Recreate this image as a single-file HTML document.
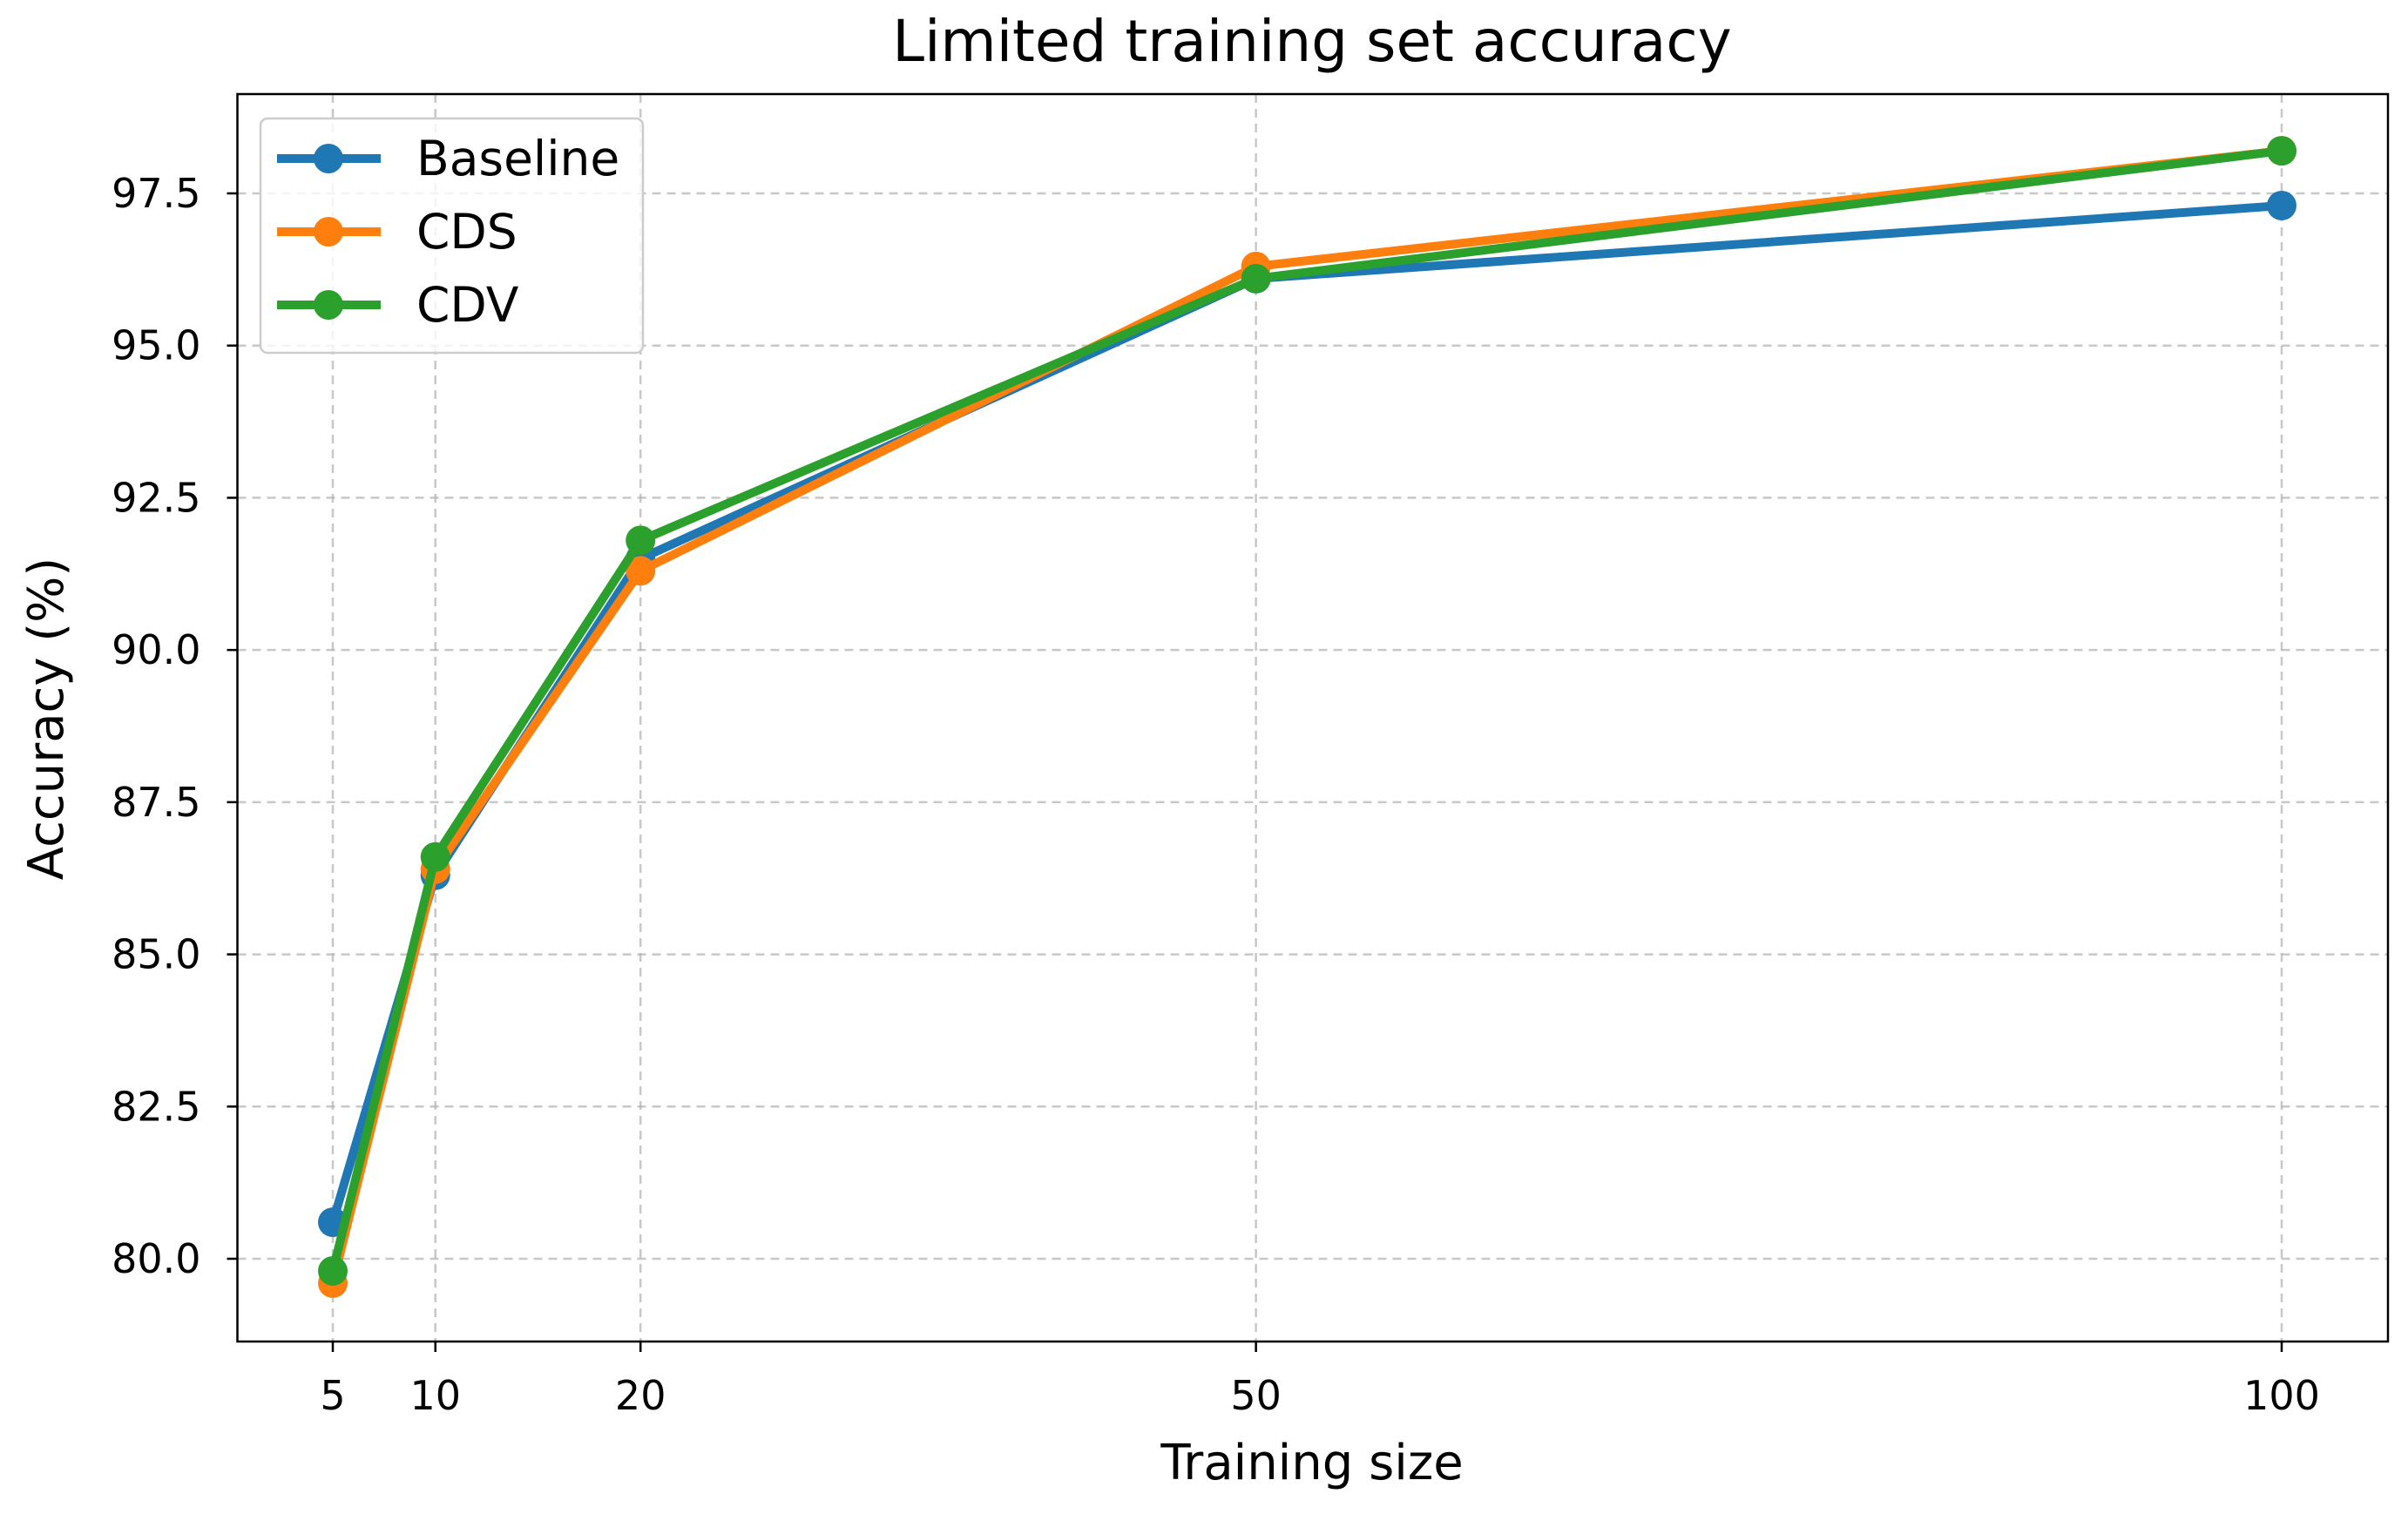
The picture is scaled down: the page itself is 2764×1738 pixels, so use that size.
<!DOCTYPE html>
<html><head><meta charset="utf-8"><style>
html,body{margin:0;padding:0;background:#fff;}
svg text{font-family:"DejaVu Sans","Liberation Sans",sans-serif;fill:#000;}
</style></head><body>
<svg id="chart" width="2764" height="1733" xmlns="http://www.w3.org/2000/svg">
<rect width="2764" height="1733" fill="#fff"/>
<g id="grid"></g>
<g id="series"></g>
<rect x="272.5" y="108" width="2468.5" height="1432" fill="none" stroke="#000" stroke-width="2.5"/>
<g id="ticks"></g>
<text x="1506" y="70" font-size="66" text-anchor="middle">Limited training set accuracy</text>
<text x="1506" y="1698" font-size="56" text-anchor="middle">Training size</text>
<text x="0" y="0" font-size="56" text-anchor="middle" transform="translate(72,825) rotate(-90)">Accuracy (%)</text>
<g>
<rect x="299" y="136" width="439" height="269" rx="8" fill="#fff" fill-opacity="0.8" stroke="#ccc" stroke-width="2.5"/>
<g id="legend-items"></g>
</g>
</svg>
<script>
const categories=[5,10,20,50,100];
const baseline=[80.6,86.3,91.5,96.1,97.3];
const cds=[79.6,86.4,91.3,96.3,98.2];
const cdv=[79.8,86.6,91.8,96.1,98.2];
const seriesNames=["Baseline","CDS","CDV"];
const yTicks=[80.0,82.5,85.0,87.5,90.0,92.5,95.0,97.5];
const xTicks=[5,10,20,50,100];

const NS="http://www.w3.org/2000/svg";
const L=272.5,R=2741,T=108,B=1540;
function xs(v){return 382+(v-5)*(2619-382)/95;}
function ys(v){return 1445-(v-80)*(1445-222)/17.5;}
function mk(tag,attrs,parent){const e=document.createElementNS(NS,tag);for(const k in attrs)e.setAttribute(k,attrs[k]);parent.appendChild(e);return e;}
const grid=document.getElementById('grid'),ticks=document.getElementById('ticks'),ser=document.getElementById('series');
yTicks.forEach(v=>{
 const y=ys(v);
 const g=mk('line',{x1:L,x2:R,y1:y,y2:y,stroke:'#b0b0b0','stroke-width':2.5,'stroke-dasharray':'10,7','stroke-opacity':0.7},grid);
 
 
 const t=mk('line',{x1:L-12,x2:L,y1:y,y2:y,stroke:'#000','stroke-width':2.5},ticks);
 
 
 const tx=mk('text',{x:L-42,y:y+16,'font-size':46,'text-anchor':'end'},ticks);
 tx.textContent=v.toFixed(1);
 
 
});
xTicks.forEach(v=>{
 const x=xs(v);
 const g=mk('line',{x1:x,x2:x,y1:T,y2:B,stroke:'#b0b0b0','stroke-width':2.5,'stroke-dasharray':'10,7','stroke-opacity':0.7},grid);
 
 
 const t=mk('line',{x1:x,x2:x,y1:B,y2:B+12,stroke:'#000','stroke-width':2.5},ticks);
 
 
 const tx=mk('text',{x:x,y:B+78,'font-size':46,'text-anchor':'middle'},ticks);
 tx.textContent=v;
 
 
});
const colors=['#1f77b4','#ff7f0e','#2ca02c'];
[baseline,cds,cdv].forEach((vals,i)=>{
 const pts=categories.map((c,j)=>xs(c)+','+ys(vals[j])).join(' ');
 const pl=mk('polyline',{points:pts,fill:'none',stroke:colors[i],'stroke-width':10,'stroke-linejoin':'round','stroke-linecap':'round'},ser);
 
 
 categories.forEach((c,j)=>{
  const p=mk('circle',{cx:xs(c),cy:ys(vals[j]),r:17,fill:colors[i]},ser);
  
  
 });
 const lg=document.getElementById('legend-items');
 const ly=182+i*84;
 const ll=mk('line',{x1:318,x2:437,y1:ly,y2:ly,stroke:colors[i],'stroke-width':10},lg);
 
 
 const lc=mk('circle',{cx:377,cy:ly,r:17,fill:colors[i]},lg);
 
 
 const lt=mk('text',{x:478,y:ly+19,'font-size':55},lg);
 lt.textContent=seriesNames[i];
 
 
});
</script>
</body></html>
